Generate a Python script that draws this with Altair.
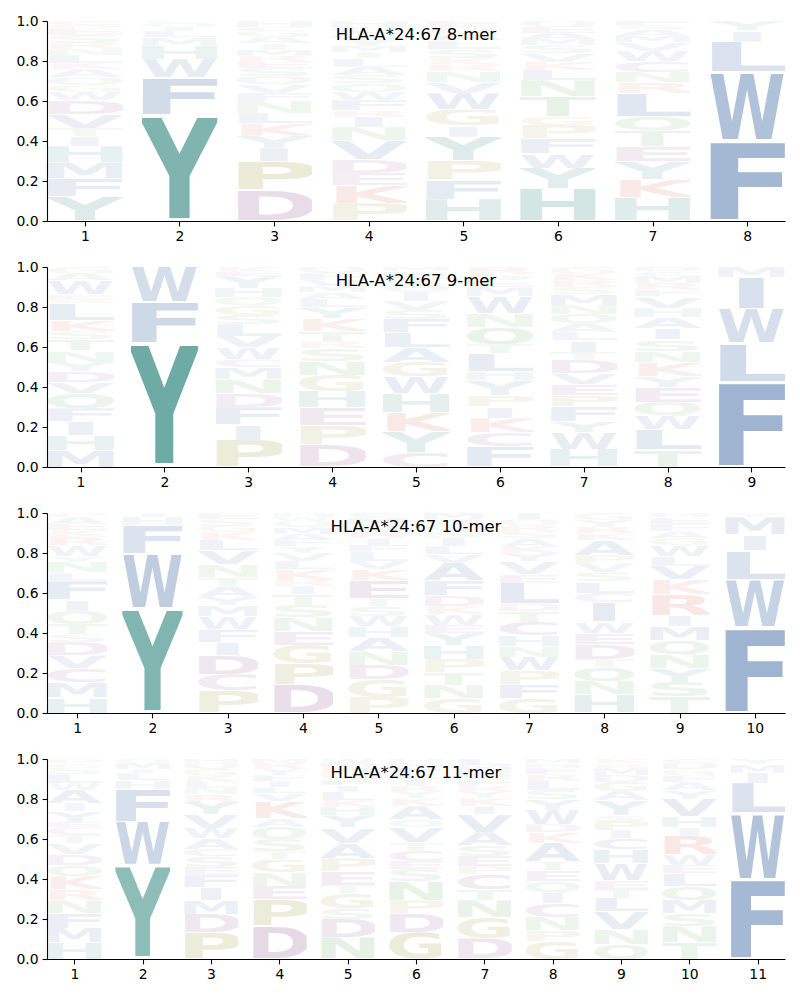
import altair as alt
import pandas as pd
from urllib.parse import quote

TITLES = ["HLA-A*24:67 8-mer", "HLA-A*24:67 9-mer", "HLA-A*24:67 10-mer", "HLA-A*24:67 11-mer"]

# letters listed bottom -> top for each position, with heights
MER8_LETTERS = [
    "YFMHITVDWGQAKLNRSEPC",
    "YFWHMLIQC",
    "DPIYKLNFVQSERMTAGCH",
    "PKEDVNIRFWQSALTMYGCH",
    "HFPYIGWVNRKSLAQE",
    "HYWFPGTNLKVSMAEQ",
    "HKYETQLRNCWVMASF",
    "FWLIY",
]
MER8_HEIGHTS = [
    [.12, .09, .08, .08, .05, .04, .07, .07, .04, .03, .04, .04, .03, .04, .03, .03, .04, .03, .02, .02],
    [.51, .18, .09, .065, .04, .03, .02, .02, .01],
    [.15, .14, .065, .06, .06, .05, .06, .04, .04, .04, .04, .03, .03, .03, .03, .03, .03, .02, .03],
    [.085, .085, .06, .065, .09, .065, .05, .03, .05, .04, .04, .04, .04, .04, .03, .03, .03, .03, .03, .03],
    [.10, .09, .085, .11, .05, .075, .075, .05, .05, .03, .03, .04, .04, .03, .03, .03],
    [.16, .10, .07, .075, .065, .04, .10, .08, .05, .04, .04, .04, .03, .03, .03, .03],
    [.11, .085, .085, .07, .075, .065, .11, .05, .05, .05, .05, .04, .03, .03, .02, .02],
    [.385, .33, .145, .055, .045],
]

MER9_LETTERS = [
    "MHIFQVDYNTSKLREWAG",
    "YFW",
    "PIFDNMCWVLSGQHYEK",
    "DPEHGNSRTKYLAMVFQ",
    "CYKHWGALFSVIQTEM",
    "FCKIPYHLTQNWMESR",
    "HWYFPEVDTILAQNMSRKG",
    "TLWQEYKNSIAHVFRMCD",
    "FLWIM",
]
MER9_HEIGHTS = [
    [.075, .065, .06, .06, .065, .05, .05, .04, .05, .05, .035, .05, .075, .02, .02, .06, .03, .03],
    [.60, .20, .17],
    [.115, .065, .075, .06, .06, .05, .035, .05, .05, .05, .04, .04, .035, .04, .05, .02, .02],
    [.105, .09, .085, .075, .075, .065, .06, .03, .05, .06, .05, .04, .03, .03, .03, .03, .03],
    [.065, .09, .085, .085, .075, .065, .065, .065, .06, .04, .04, .04, .03, .03, .03, .02],
    [.09, .06, .065, .05, .05, .065, .04, .08, .04, .075, .06, .075, .04, .03, .03, .03],
    [.08, .075, .05, .065, .05, .05, .05, .06, .035, .05, .04, .04, .04, .04, .05, .03, .03, .03, .03],
    [.075, .09, .06, .06, .065, .05, .06, .05, .05, .05, .05, .04, .05, .03, .03, .03, .02, .02],
    [.405, .185, .16, .15, .05],
]

MER10_LETTERS = [
    "HMCVDSTQIFLNYWRKEAP",
    "YWFHI",
    "PCDIFWMYATNVLKGSE",
    "DPGENSTIRKLVYFAMQWH",
    "PGDNAHWSTEKVLFIRQMC",
    "GNTPHYEWKDFAVLISQRM",
    "GFPWNHCTDLEVYKASRQI",
    "HNQTDEWICLSVPAKRYG",
    "TSYNQMIRKVLWGAFEH",
    "FWLIMY",
]
MER10_HEIGHTS = [
    [.07, .07, .065, .06, .06, .035, .05, .06, .05, .085, .04, .05, .025, .05, .04, .03, .03, .03, .02],
    [.505, .265, .14, .04, .02],
    [.105, .075, .09, .06, .06, .06, .05, .04, .05, .04, .06, .065, .05, .035, .03, .03, .03],
    [.135, .10, .09, .065, .065, .06, .05, .04, .03, .05, .04, .04, .03, .03, .03, .03, .03, .02, .02],
    [.07, .075, .065, .06, .06, .05, .045, .04, .035, .08, .05, .035, .04, .03, .03, .03, .03, .03, .02],
    [.07, .065, .06, .065, .065, .06, .04, .05, .04, .05, .075, .085, .04, .04, .04, .03, .03, .03, .03],
    [.07, .065, .065, .065, .05, .05, .065, .05, .035, .10, .04, .06, .04, .03, .04, .03, .03, .03, .03],
    [.08, .06, .06, .035, .065, .05, .05, .085, .04, .05, .04, .04, .035, .065, .03, .03, .03, .03],
    [.07, .065, .06, .06, .06, .06, .05, .09, .065, .06, .04, .05, .03, .03, .03, .03, .02],
    [.41, .23, .14, .075, .085, .02],
]

MER11_LETTERS = [
    "HMFNRKQDVTCEYIAWLSGP",
    "YWFHLIMQ",
    "PDMIFESCAWVYRNLKGQH",
    "DPENGTSQAKVLIFYRM",
    "NDSGTEPAVYHKLIFQRMW",
    "GDPNSECTVQAKYRILFMH",
    "DGNTCPESAVIKYRFQHML",
    "GPNCIQETAKDWYSLRFHM",
    "QNVLTEWHCIPSYAGDMRK",
    "TNSMQLEWRIHVYAFGDC",
    "FWLIMY",
]
MER11_HEIGHTS = [
    [.075, .065, .065, .06, .05, .06, .05, .05, .05, .035, .035, .025, .05, .035, .06, .03, .04, .03, .02, .02],
    [.455, .215, .16, .04, .035, .02, .03, .02],
    [.125, .09, .065, .06, .06, .04, .05, .035, .05, .05, .065, .06, .035, .03, .03, .03, .03, .03, .02],
    [.165, .13, .065, .065, .065, .04, .06, .06, .04, .085, .04, .03, .03, .03, .03, .03, .02],
    [.105, .09, .05, .075, .04, .065, .065, .075, .075, .06, .04, .035, .04, .03, .03, .03, .03, .02, .02],
    [.13, .09, .065, .09, .06, .04, .05, .04, .075, .035, .065, .04, .03, .03, .03, .03, .03, .02, .02],
    [.10, .10, .085, .05, .075, .04, .05, .05, .065, .085, .04, .04, .03, .03, .03, .03, .02, .02, .03],
    [.08, .05, .06, .06, .05, .05, .05, .04, .085, .05, .035, .065, .05, .04, .04, .03, .03, .02, .02],
    [.065, .065, .075, .06, .04, .035, .075, .06, .05, .035, .04, .025, .065, .04, .04, .03, .03, .02, .02],
    [.08, .075, .06, .065, .065, .06, .04, .05, .09, .04, .05, .085, .04, .04, .03, .03, .03, .02],
    [.375, .315, .14, .05, .04, .025],
]

PANELS = [
    (TITLES[0], MER8_LETTERS, MER8_HEIGHTS),
    (TITLES[1], MER9_LETTERS, MER9_HEIGHTS),
    (TITLES[2], MER10_LETTERS, MER10_HEIGHTS),
    (TITLES[3], MER11_LETTERS, MER11_HEIGHTS),
]

# colour groups
BLUE, TEAL, OLIVE, PURPLE, SALMON, GREEN = "#4e75aa", "#409088", "#9c9c40", "#945a94", "#d86450", "#58a858"
LETTER_COLOR = {
    "A": BLUE, "F": BLUE, "I": BLUE, "L": BLUE, "M": BLUE, "V": BLUE, "W": BLUE,
    "Y": TEAL, "H": TEAL,
    "P": OLIVE, "G": OLIVE,
    "D": PURPLE, "E": PURPLE, "C": PURPLE,
    "K": SALMON, "R": SALMON,
    "N": GREEN, "Q": GREEN, "S": GREEN, "T": GREEN,
}
# horizontal overscan so that glyph ink fills the box (side bearings removed)
OVERSCAN = {
    "A": 1.02, "V": 1.02, "W": 1.02, "X": 1.02, "Y": 1.03, "T": 1.05,
    "C": 1.13, "G": 1.12, "O": 1.12, "Q": 1.12, "S": 1.15,
    "D": 1.22, "E": 1.3, "F": 1.32, "H": 1.27, "K": 1.12, "L": 1.3,
    "M": 1.2, "N": 1.24, "P": 1.25, "R": 1.18, "I": 0.72,
}


def glyph_url(letter):
    cap = 72.9
    pad = 2.2
    svg = (
        f"<svg xmlns='http://www.w3.org/2000/svg' viewBox='0 {-pad} 100 {cap + 2 * pad}' "
        f"preserveAspectRatio='none'>"
        f"<text x='50' y='{cap}' text-anchor='middle' font-family='DejaVu Sans' font-weight='bold' "
        f"font-size='100' textLength='{100 * OVERSCAN.get(letter, 1.15):.1f}' lengthAdjust='spacingAndGlyphs' "
        f"fill='{LETTER_COLOR[letter]}'>{letter}</text></svg>"
    )
    return "data:image/svg+xml," + quote(svg)


AXIS = dict(
    domainColor="black", tickColor="black", labelColor="black", labelFont="DejaVu Sans",
    labelFontSize=13.9, tickSize=4.9, labelPadding=4, grid=False, title=None,
    domainWidth=1.1, tickWidth=1.1,
)

charts = []
for title, letters, heights in PANELS:
    rows = []
    for i, (lets, hs) in enumerate(zip(letters, heights)):
        for k, (ch, h) in enumerate(zip(lets, hs)):
            rows.append({"pos": i + 1, "order": k, "letter": ch, "h": h, "url": glyph_url(ch)})
    df = pd.DataFrame(rows)
    n = len(letters)

    logo = (
        alt.Chart(df)
        .transform_joinaggregate(tot="sum(h)", groupby=["pos"])
        .transform_calculate(p="datum.h / datum.tot", xl="datum.pos - 0.4", xr="datum.pos + 0.4")
        .transform_stack(stack="p", groupby=["pos"], sort=[alt.SortField("order", "ascending")], as_=["y0", "y1"])
        .mark_image(aspect=False)
        .encode(
            x=alt.X("xl:Q", scale=alt.Scale(domain=[0.6, n + 0.4], nice=False, zero=False),
                    axis=alt.Axis(values=list(range(1, n + 1)), format="d", **AXIS)),
            x2="xr:Q",
            y=alt.Y("y0:Q", scale=alt.Scale(domain=[0, 1], nice=False),
                    axis=alt.Axis(values=[0, 0.2, 0.4, 0.6, 0.8, 1.0], format=".1f", **AXIS)),
            y2="y1:Q",
            url="url:N",
            opacity=alt.Opacity("p:Q", scale=alt.Scale(domain=[0.02, 0.6], range=[0.045, 0.75], clamp=True),
                                legend=None),
        )
    )
    ttl = (
        alt.Chart(pd.DataFrame({"t": [title]}))
        .mark_text(font="DejaVu Sans", fontSize=16.5, color="black", baseline="middle", align="center")
        .encode(text="t:N", x=alt.value(369), y=alt.value(14))
    )
    charts.append(alt.layer(logo, ttl).properties(width=738, height=200))

chart = (
    alt.vconcat(*charts, spacing=16)
    .properties(padding={"left": 16, "top": 14, "right": 5, "bottom": 5})
    .configure_view(stroke=None)
)

chart.save("out.html", embed_options={"renderer": "svg", "actions": False})
